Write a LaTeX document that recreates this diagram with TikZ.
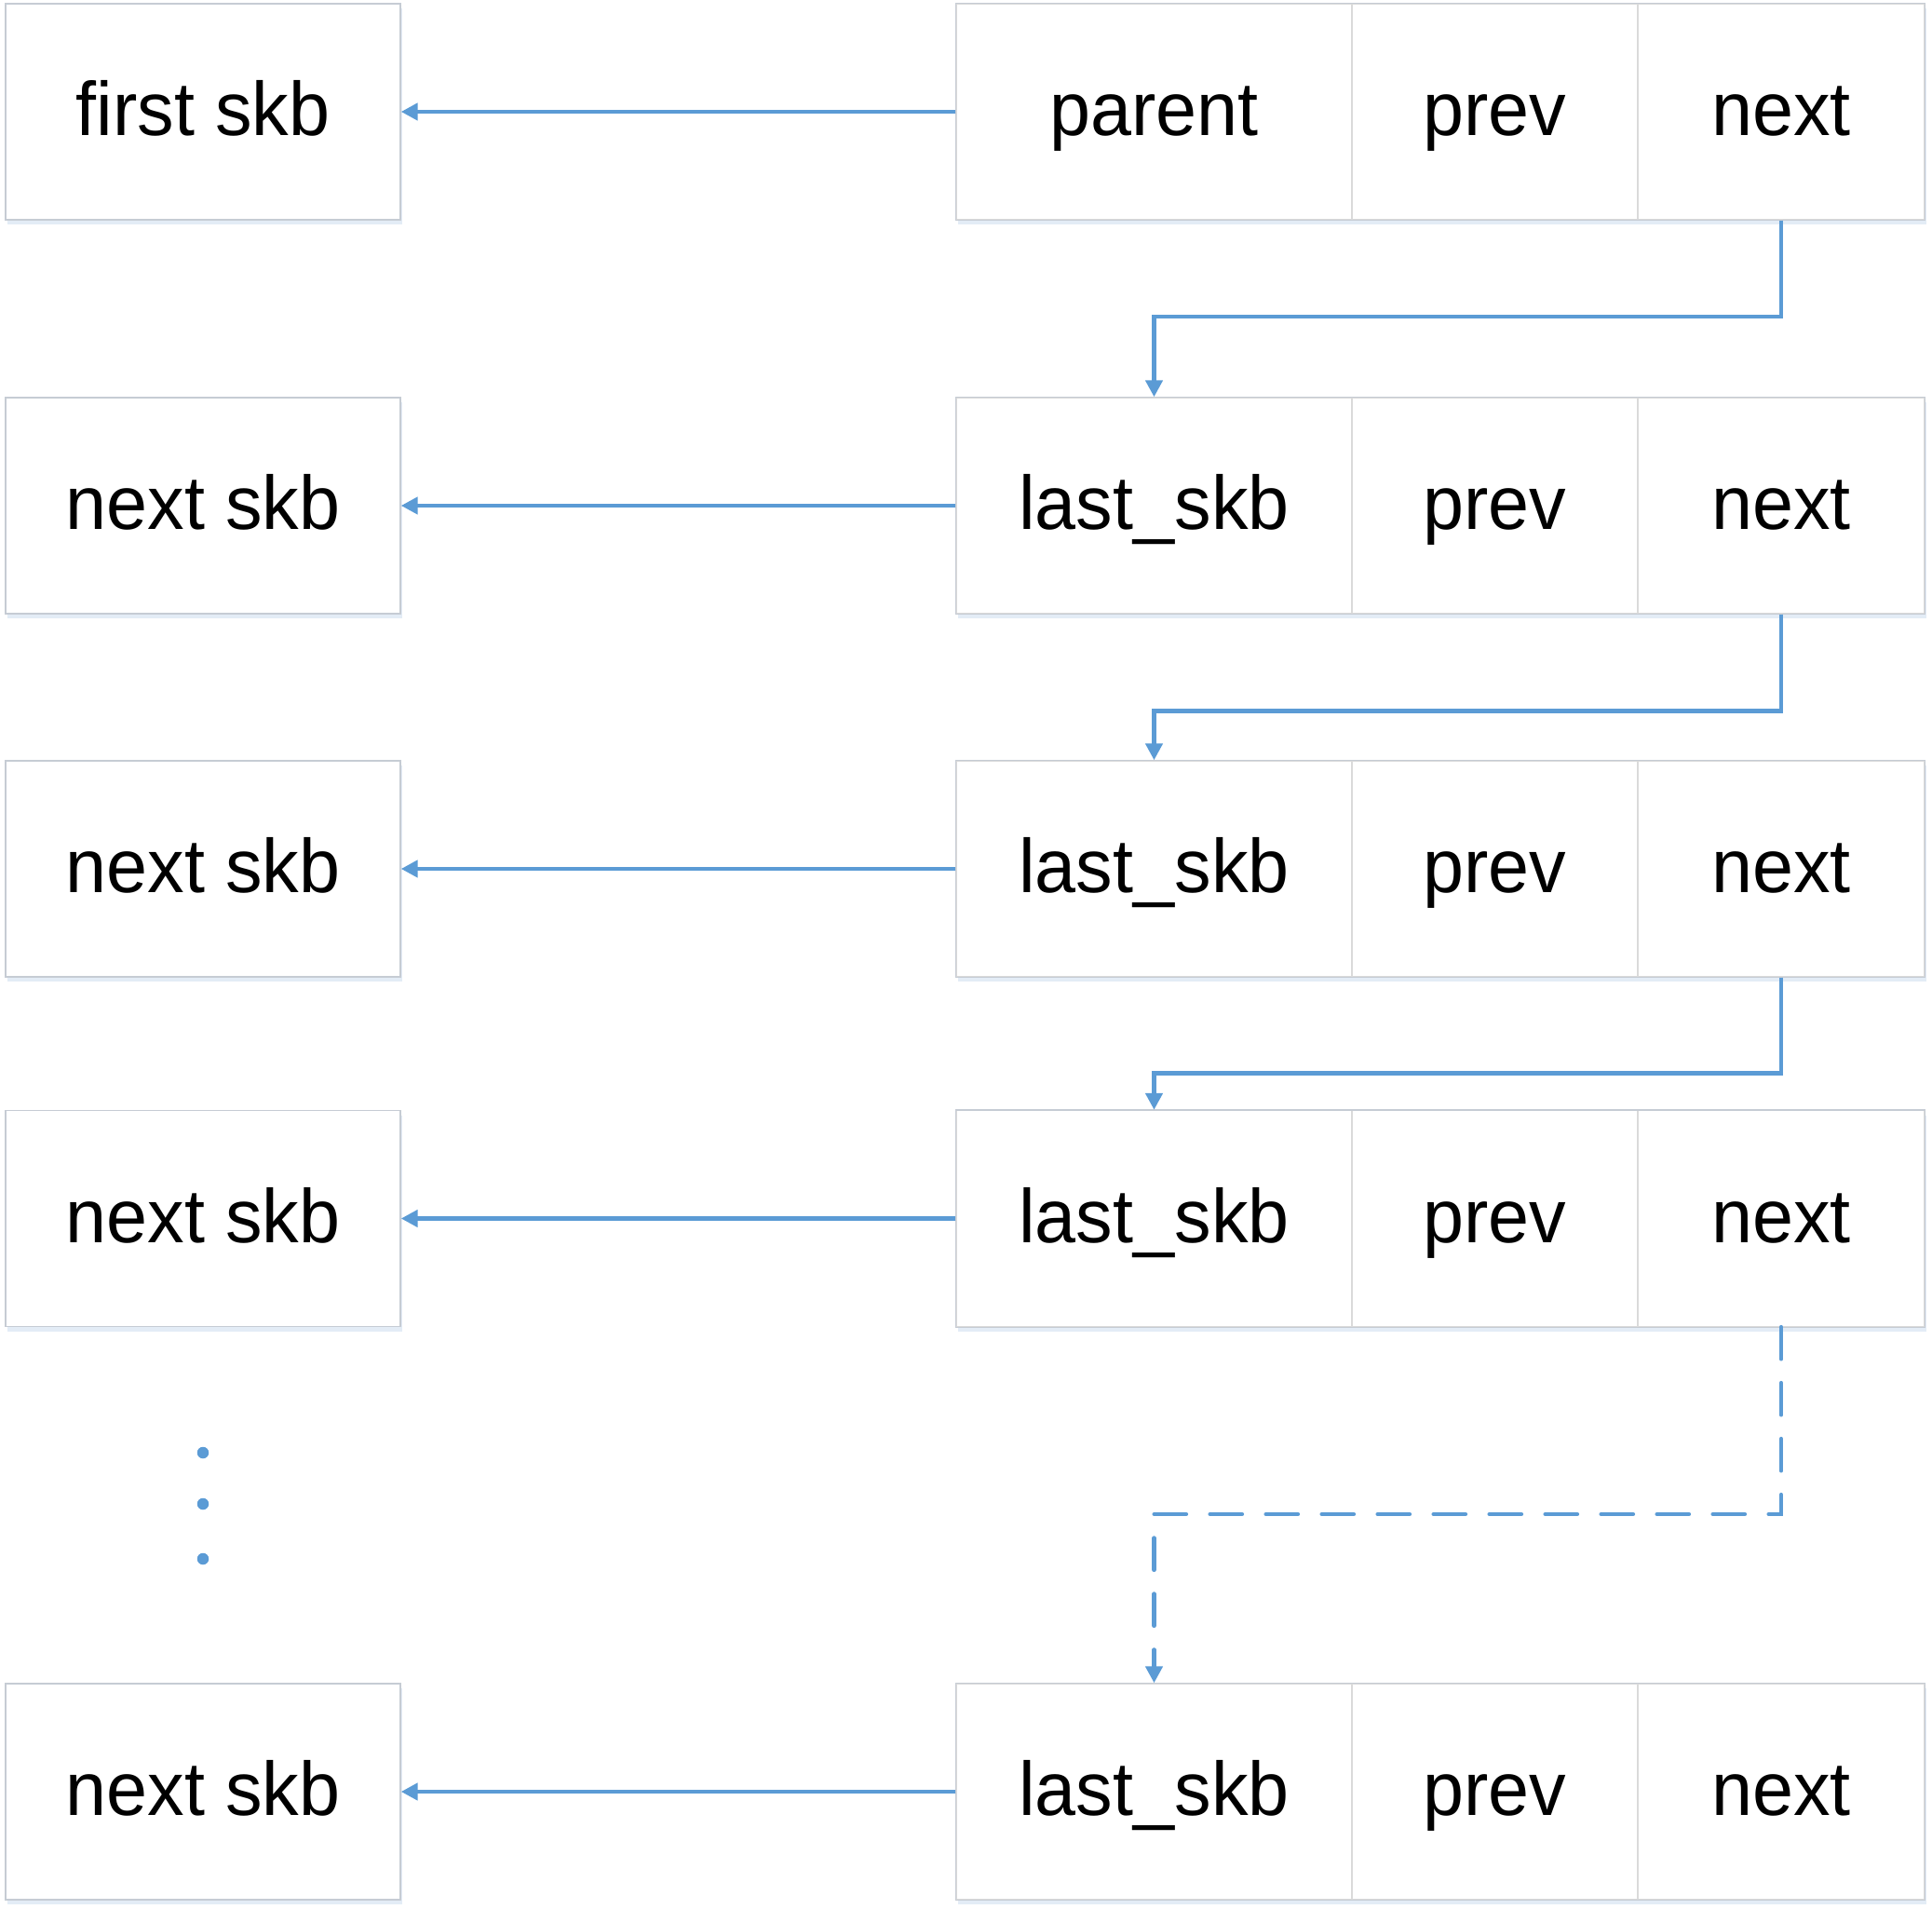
\documentclass[tikz,border=0pt]{standalone}
\usepackage{fontspec}
\setmainfont{Liberation Sans}[FakeStretch=0.97]
\usetikzlibrary{arrows.meta,shadows}
\definecolor{linkblue}{HTML}{5B9BD5}
\definecolor{boxline}{HTML}{C6CCD4}
\definecolor{cellline}{HTML}{DADADA}
\definecolor{shadowc}{HTML}{E3ECF6}
\begin{document}
\begin{tikzpicture}[
  cell/.style={draw=cellline, line width=0.4pt, fill=white, minimum height=2.32cm, inner sep=0pt,
    font=\fontsize{23.2}{28}\selectfont, text height=17.5pt, text depth=2.94pt,
    drop shadow={shadow xshift=0.02cm, shadow yshift=-0.05cm, fill=shadowc, opacity=1}},
  wbox/.style={cell, draw=boxline, minimum width=4.24cm},
  pbox/.style={cell, minimum width=4.25cm},
  vbox/.style={cell, minimum width=3.07cm},
  nbox/.style={cell, minimum width=3.08cm},
  frame/.style={draw=boxline, line width=0.4pt},
  link/.style={draw=linkblue, line width=1.35pt, -{Triangle[length=0.18cm,width=0.18cm]}},
  dlink/.style={link, line cap=round, dash pattern=on 0.34cm off 0.26cm},
  dot/.style={circle, fill=linkblue, inner sep=0pt, minimum size=0.125cm}
]
\useasboundingbox (0,0) rectangle (20.75,-20.50);

% rows
\foreach \i/\y/\lt/\pt in {1/-1.20/first skb/parent,
                           2/-5.43/next skb/last\_skb,
                           3/-9.33/next skb/last\_skb,
                           4/-13.085/next skb/last\_skb,
                           5/-19.24/next skb/last\_skb}{
  \node[wbox] (L\i) at (2.18,\y) {\lt};
  \node[pbox] (P\i) at (12.395,\y) {\pt};
  \node[vbox] (V\i) at (16.055,\y) {prev};
  \node[nbox] (N\i) at (19.13,\y) {next};
  \draw[frame] (P\i.north west) rectangle (N\i.south east);
  \draw[link] (P\i.west) -- (L\i.east);
}

% level coordinates for the next-links
\coordinate (h1) at (0,-3.40);
\coordinate (h2) at (0,-7.635);
\coordinate (h3) at (0,-11.526);
\coordinate (h4) at (0,-16.26);

\draw[link] (N1.south) -- (N1.south |- h1) -| (P2.north);
\draw[link] (N2.south) -- (N2.south |- h2) -| (P3.north);
\draw[link] (N3.south) -- (N3.south |- h3) -| (P4.north);
\draw[dlink] (N4.south) -- (N4.south |- h4) -| (P5.north);

% ellipsis dots
\node[dot] (d1) at (2.18,-15.60) {};
\node[dot] (d2) at (2.18,-16.15) {};
\node[dot] (d3) at (2.18,-16.74) {};
\end{tikzpicture}
\end{document}
